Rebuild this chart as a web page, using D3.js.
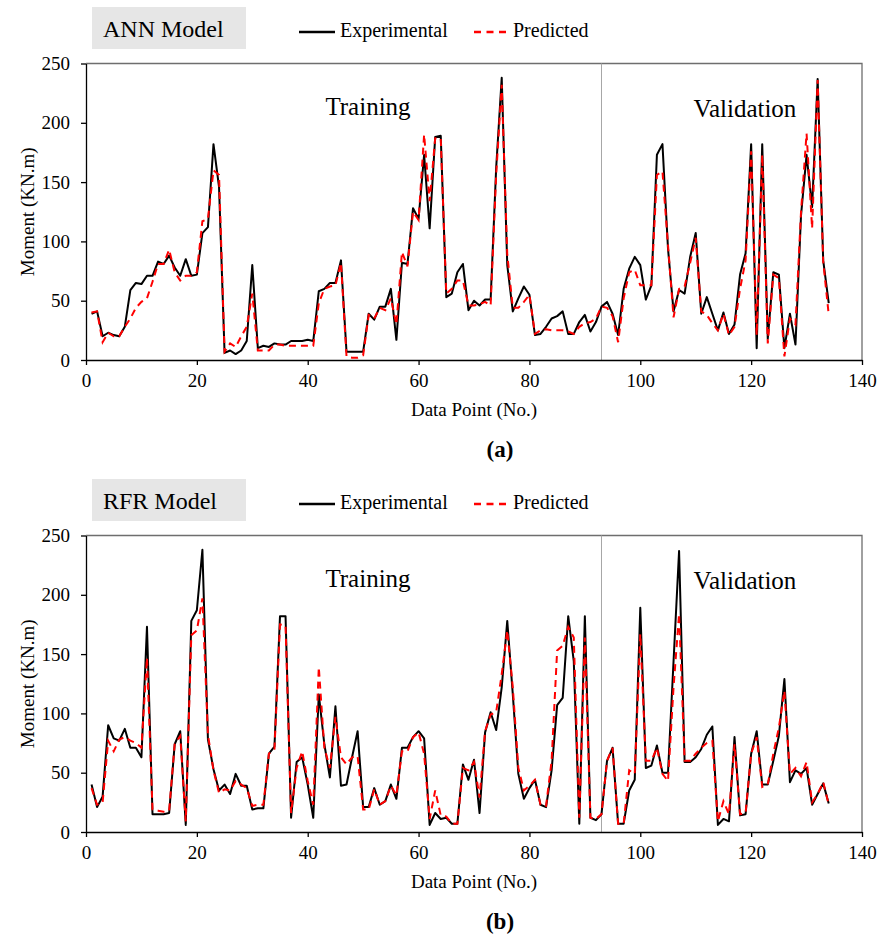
<!DOCTYPE html>
<meta charset="utf-8">
<style>
body { margin: 0; background: #fff; }
text { font-family: "Liberation Serif", "Times New Roman", serif; fill: #000; }
.axis text { font-size: 19px; }
.axis path, .axis line { stroke: #000; }
</style>
<svg width="879" height="945"></svg>
<script src="https://d3js.org/d3.v7.min.js"></script>
<script>

// data point numbers 1..134
var points = d3.range(1, 135);

var annExperimental = [39,41,20,23,21,20,28,59,65,64,
  71,71,83,81,88,78,71,85,71,72,
  107,112,182,146,6,8,5,8,16,80,
  10,12,11,14,13,13,16,16,16,17,
  16,58,60,65,65,84,7,7,7,7,
  39,34,45,45,60,17,82,81,128,119,
  173,111,188,189,53,56,74,81,42,50,
  46,51,51,162,238,80,41,52,62,55,
  21,22,28,35,37,41,22,22,32,38,
  24,32,45,49,39,21,60,77,87,80,
  51,63,173,182,94,41,59,56,87,107,
  39,53,39,25,40,22,30,72,90,182,
  10,182,18,74,72,10,39,13,122,173,
  129,237,84,48];

var annPredicted = [40,41,15,23,20,20,28,35,44,49,
  52,66,81,81,93,74,67,71,71,74,
  117,119,160,156,7,14,11,20,28,56,
  8,8,8,13,13,12,12,12,12,12,
  12,48,60,62,63,82,3,2,2,4,
  38,35,44,42,52,30,91,79,125,118,
  190,134,187,187,56,60,67,67,46,46,
  47,49,46,156,232,89,44,44,49,55,
  22,25,26,25,25,25,24,22,28,31,
  32,35,45,44,37,15,52,74,76,63,
  63,63,156,159,97,36,60,62,82,103,
  41,38,31,25,39,21,28,60,84,176,
  21,173,14,72,69,3,35,30,125,191,
  111,236,83,38];

var rfrExperimental = [40,21,30,90,79,77,87,71,71,63,
  173,15,15,15,16,74,85,6,178,187,
  238,78,53,35,40,32,49,39,39,19,
  20,20,66,72,182,182,12,59,63,40,
  12,116,74,46,106,39,40,63,85,21,
  21,37,23,26,40,28,71,71,80,85,
  79,6,16,11,12,7,7,57,44,61,
  16,84,101,86,122,178,116,49,28,37,
  44,23,21,52,107,113,182,144,7,182,
  12,10,15,60,71,7,7,35,44,189,
  54,56,73,50,50,144,237,59,59,63,
  70,82,89,6,11,9,80,14,15,66,
  85,40,40,60,81,129,42,52,49,54,
  23,32,41,24];

var rfrPredicted = [37,23,25,77,68,78,80,77,75,71,
  147,19,18,17,18,74,81,9,166,170,
  197,82,52,33,36,35,43,40,37,22,
  23,23,66,70,175,174,16,54,68,43,
  23,139,71,54,97,63,57,63,64,19,
  19,36,23,26,39,31,68,68,80,84,
  66,11,35,14,13,7,7,54,52,59,
  29,85,99,101,133,170,122,54,35,39,
  44,23,22,60,153,157,173,164,12,164,
  12,11,15,60,71,7,7,52,49,167,
  60,60,71,49,43,122,184,60,60,66,
  71,75,77,9,26,15,74,15,16,66,
  80,38,40,66,88,119,49,54,47,59,
  25,32,42,23];

var xTicks = [0, 20, 40, 60, 80, 100, 120, 140];
var yTicks = [0, 50, 100, 150, 200, 250];
var splitAt = 93;

var svg = d3.select("svg");

var left = 86, right = 862;

var x = d3.scaleLinear()
  .domain([0, 140])
  .range([left, right]);

function drawPanel(top, model, exp, pred, tag) {
  var g = svg.append("g").attr("transform", "translate(0," + top + ")");

  var y = d3.scaleLinear()
    .domain([0, 250])
    .range([360, 63.5]);

  // model box
  g.append("rect")
    .attr("x", 92).attr("y", 7)
    .attr("width", 154).attr("height", 42)
    .attr("fill", "#e6e6e6");
  g.append("text")
    .attr("x", 103).attr("y", 37)
    .style("font-size", "24px")
    .text(model);

  // legend
  g.append("line")
    .attr("x1", 299).attr("x2", 335).attr("y1", 32).attr("y2", 32)
    .attr("stroke", "#000").attr("stroke-width", 2.5);
  g.append("text")
    .attr("x", 340).attr("y", 37)
    .style("font-size", "20px")
    .text("Experimental");
  g.append("line")
    .attr("x1", 474).attr("x2", 511).attr("y1", 32).attr("y2", 32)
    .attr("stroke", "#ff0000").attr("stroke-width", 2.5)
    .attr("stroke-dasharray", "7,5.5");
  g.append("text")
    .attr("x", 513).attr("y", 37)
    .style("font-size", "20px")
    .text("Predicted");

  // frame (top + right)
  g.append("path")
    .attr("d", "M" + left + "," + y(250) + "H" + right + "V" + y(0))
    .attr("fill", "none")
    .attr("stroke", "#6e6e6e")
    .attr("stroke-width", 1.3);

  // training / validation split
  g.append("line")
    .attr("x1", x(splitAt)).attr("x2", x(splitAt))
    .attr("y1", y(250)).attr("y2", y(0))
    .attr("stroke", "#a6a6a6").attr("stroke-width", 1);

  g.append("text")
    .attr("x", 368).attr("y", 115)
    .attr("text-anchor", "middle")
    .style("font-size", "25px")
    .text("Training");
  g.append("text")
    .attr("x", 745).attr("y", 117)
    .attr("text-anchor", "middle")
    .style("font-size", "25px")
    .text("Validation");

  var line = d3.line()
    .x(function(d) { return x(d[0]); })
    .y(function(d) { return y(d[1]); });

  g.append("path")
    .datum(d3.zip(points, exp))
    .attr("fill", "none")
    .attr("stroke", "#000")
    .attr("stroke-width", 2)
    .attr("stroke-linejoin", "round")
    .attr("d", line);

  g.append("path")
    .datum(d3.zip(points, pred))
    .attr("fill", "none")
    .attr("stroke", "#ff0000")
    .attr("stroke-width", 2)
    .attr("stroke-dasharray", "7,5")
    .attr("d", line);

  // axes
  g.append("g")
    .attr("class", "axis")
    .attr("transform", "translate(0," + y(0) + ")")
    .call(d3.axisBottom(x).tickValues(xTicks).tickSize(5).tickPadding(9).tickSizeOuter(0))
    .selectAll("path, line").attr("stroke-width", 1.3);

  g.append("g")
    .attr("class", "axis")
    .attr("transform", "translate(" + left + ",0)")
    .call(d3.axisLeft(y).tickValues(yTicks).tickSize(5).tickPadding(11).tickSizeOuter(0))
    .selectAll("path, line").attr("stroke-width", 1.3);

  g.append("text")
    .attr("transform", "translate(27," + (y(125)) + ") rotate(-90)")
    .attr("text-anchor", "middle")
    .attr("dy", "0.35em")
    .style("font-size", "19px")
    .text("Moment (KN.m)");

  g.append("text")
    .attr("x", (left + right) / 2).attr("y", 416)
    .attr("text-anchor", "middle")
    .style("font-size", "19px")
    .text("Data Point (No.)");

  g.append("text")
    .attr("x", 500).attr("y", 457)
    .attr("text-anchor", "middle")
    .style("font-size", "23px")
    .style("font-weight", "bold")
    .text(tag);
}

drawPanel(0, "ANN Model", annExperimental, annPredicted, "(a)");
drawPanel(472, "RFR Model", rfrExperimental, rfrPredicted, "(b)");

</script>
